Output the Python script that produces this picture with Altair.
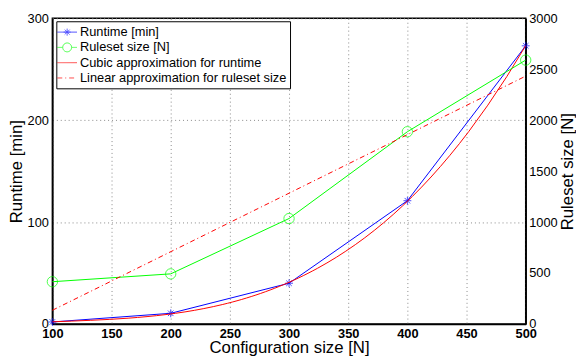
import altair as alt
import pandas as pd

# ---- data ----
config_size = [100, 200, 300, 400, 500]
runtime_min = [2, 10.5, 40, 121, 273]
ruleset_size = [415, 492, 1035, 1887, 2590]

series_names = [
    "Runtime [min]",
    "Ruleset size [N]",
    "Cubic approximation for runtime",
    "Linear approximation for ruleset size",
]
series_colors = ["#0000ff", "#00ff00", "#ff0000", "#ff0000"]

x_ticks = [100, 150, 200, 250, 300, 350, 400, 450, 500]
left_ticks = [0, 100, 200, 300]
right_ticks = [0, 500, 1000, 1500, 2000, 2500, 3000]

df = pd.DataFrame({"size": config_size, "runtime": runtime_min, "ruleset": ruleset_size})
legend_df = pd.DataFrame({"series": series_names})

FONT = "Liberation Sans"
STAR = "M-1,0H1M0,-1V1M-0.7,-0.7L0.7,0.7M-0.7,0.7L0.7,-0.7"
# legend symbols (unit = sqrt(size)/2 px)
LEG_STAR = "M-1.33,0H1.33M-0.47,0H0.47M0,-0.47V0.47M-0.33,-0.33L0.33,0.33M-0.33,0.33L0.33,-0.33"
LEG_CIRC = "M-1.33,0H-0.6M0.6,0H1.33M-0.6,0A0.6,0.6,0,1,0,0.6,0A0.6,0.6,0,1,0,-0.6,0"
LEG_LINE = "M-1.33,0H1.33"

x_enc = alt.X(
    "size:Q",
    scale=alt.Scale(domain=[100, 500], nice=False, zero=False),
    axis=alt.Axis(
        values=x_ticks,
        title="Configuration size [N]",
        grid=True,
        gridDash=[1, 3],
        gridColor="#888888",
        ticks=False,
        labelFontWeight="bold",
        labelFontSize=13,
        labelPadding=4,
        titleFontSize=17,
        titleFontWeight="normal",
        titleX=240,
        titleY=29,
        titleAlign="center",
        titleBaseline="alphabetic",
        labelFlush=False,
    ),
)

y_left = alt.Y(
    "runtime:Q",
    scale=alt.Scale(domain=[0, 300], nice=False),
    axis=alt.Axis(
        values=left_ticks,
        title="Runtime [min]",
        grid=True,
        gridDash=[1, 3],
        gridColor="#888888",
        ticks=False,
        labelFontSize=13,
        labelPadding=4,
        titleFontSize=17,
        titleFontWeight="normal",
        titleAngle=270,
        titleX=-36,
        titleY=155,
        titleAlign="center",
        titleBaseline="middle",
        orient="left",
    ),
)

y_right = alt.Y(
    "ruleset:Q",
    scale=alt.Scale(domain=[0, 3000], nice=False),
    axis=alt.Axis(
        values=right_ticks,
        format="d",
        title="Ruleset size [N]",
        grid=False,
        ticks=False,
        labelFontSize=13,
        labelPadding=3,
        titleFontSize=17,
        titleFontWeight="normal",
        titleAngle=270,
        titleX=42,
        titleY=155,
        titleAlign="center",
        titleBaseline="middle",
        orient="right",
    ),
)

base = alt.Chart(df)

rt_line = base.mark_line(color="#0000ff", strokeWidth=1).encode(x=x_enc, y=y_left)
rt_pts = base.mark_point(shape=STAR, size=64, color="#0000ff", strokeWidth=1, filled=False).encode(x=x_enc, y=y_left)
rt_fit = (
    base.transform_regression("size", "runtime", method="poly", order=3, extent=[100, 500])
    .mark_line(color="#ff0000", strokeWidth=1)
    .encode(x=x_enc, y=y_left)
)

legend_layer = (
    alt.Chart(legend_df)
    .mark_point(filled=False, clip=True, strokeWidth=1)
    .encode(
        x=alt.value(-1000),
        y=alt.value(-1000),
        color=alt.Color(
            "series:N",
            scale=alt.Scale(domain=series_names, range=series_colors),
            legend=alt.Legend(
                title=None,
                orient="none",
                legendX=4,
                legendY=3,
                strokeColor="black",
                fillColor="white",
                padding=3,
                labelFont=FONT,
                labelFontSize=13,
                labelOffset=5,
                rowPadding=0.5,
                symbolSize=225,
                symbolStrokeWidth=1,
                symbolFillColor="transparent",
                labelLimit=400,
            ),
        ),
        shape=alt.Shape(
            "series:N",
            scale=alt.Scale(domain=series_names, range=[LEG_STAR, LEG_CIRC, LEG_LINE, LEG_LINE]),
            legend=alt.Legend(title=None),
        ),
        strokeDash=alt.StrokeDash(
            "series:N",
            scale=alt.Scale(domain=series_names, range=[[1, 0], [1, 0], [1, 0], [5, 3, 1, 3]]),
            legend=alt.Legend(title=None),
        ),
    )
)

rs_line = base.mark_line(color="#00ff00", strokeWidth=1).encode(x=x_enc, y=y_right)
rs_pts = base.mark_point(shape="circle", size=110, color="#00ff00", strokeWidth=1, filled=False).encode(x=x_enc, y=y_right)
rs_fit = (
    base.transform_regression("size", "ruleset", method="linear", extent=[100, 500])
    .mark_line(color="#ff0000", strokeWidth=1, strokeDash=[5, 3, 1, 3])
    .encode(x=x_enc, y=y_right)
)

left = alt.layer(rt_line, rt_pts, rt_fit, legend_layer)
right = alt.layer(rs_line, rs_pts, rs_fit)

chart = (
    alt.layer(left, right)
    .resolve_scale(y="independent")
    .properties(
        width=480,
        height=310,
        autosize=alt.AutoSizeParams(type="none"),
        padding={"left": 45, "top": 8, "right": 51, "bottom": 31},
        background="white",
    )
    .configure_view(stroke="black", strokeWidth=1.5)
    .configure_axis(
        domainColor="black",
        domainWidth=1.5,
        labelColor="black",
        titleColor="black",
        labelFont=FONT,
        titleFont=FONT,
    )
)

chart.save("out.html", embed_options={"renderer": "svg", "actions": False})
